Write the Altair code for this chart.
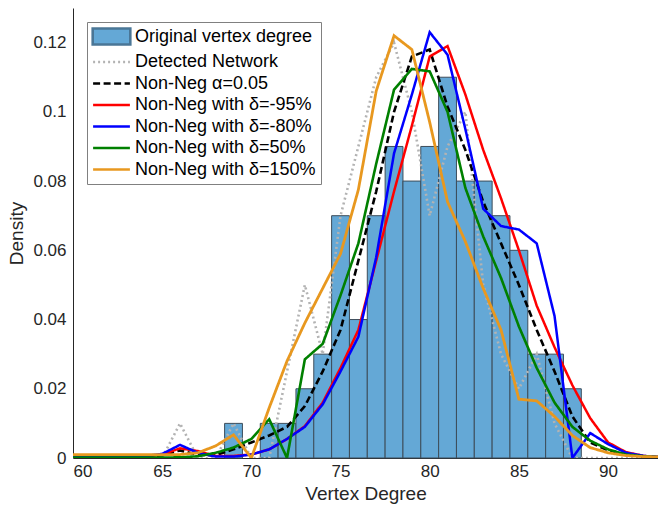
import altair as alt
import pandas as pd

# ---------------- data ----------------
x_vals = list(range(60, 94))

hist_centers = [69, 71, 72, 73, 74, 75, 76, 77, 78, 79, 80, 81, 82, 83, 84, 85, 86, 87, 88]
hist_density = [0.01, 0.01, 0.01, 0.02, 0.03, 0.07, 0.04, 0.07, 0.09, 0.08, 0.09, 0.11,
                0.08, 0.08, 0.07, 0.06, 0.03, 0.03, 0.02]

detected = [0, 0, 0, 0, 0, 0, 0.01, 0, 0, 0.01, 0, 0, 0.025, 0.05, 0.03, 0.07, 0.09, 0.11,
            0.12, 0.10, 0.07, 0.09, 0.10, 0.05, 0.03, 0.02, 0.03, 0.01, 0, 0, 0, 0, 0, 0]
alpha005 = [0.0002, 0.0002, 0.0002, 0.0002, 0.0003, 0.0008, 0.0022, 0.0009, 0.0008, 0.0025,
            0.0045, 0.0065, 0.009, 0.015, 0.025, 0.037, 0.057, 0.077, 0.100, 0.116, 0.118,
            0.1015, 0.089, 0.074, 0.062, 0.050, 0.037, 0.025, 0.012, 0.0045, 0.0022, 0.001,
            0.0004, 0.0002]
delta_m95 = [0.0002, 0.0002, 0.0002, 0.0002, 0.0004, 0.001, 0.0028, 0.002, 0.0006, 0.0006,
             0.001, 0.0025, 0.0055, 0.0092, 0.016, 0.026, 0.037, 0.057, 0.077, 0.096, 0.116,
             0.119, 0.105, 0.089, 0.075, 0.060, 0.044, 0.032, 0.021, 0.0115, 0.0045, 0.0017,
             0.0006, 0.0002]
delta_m80 = [0.0003, 0.0003, 0.0003, 0.0003, 0.0005, 0.0012, 0.0038, 0.0015, 0.0004, 0.0004,
             0.001, 0.0025, 0.0055, 0.009, 0.0155, 0.025, 0.035, 0.058, 0.088, 0.105, 0.123,
             0.1165, 0.095, 0.072, 0.067, 0.066, 0.062, 0.041, 0, 0.0072, 0.004, 0.0015,
             0.0006, 0.0002]
delta_50 = [0.0001, 0.0001, 0.0001, 0.0001, 0.0001, 0.0001, 0.0002, 0.0005, 0.0015, 0.003,
            0.0055, 0.0112, 0, 0.0285, 0.033, 0.047, 0.062, 0.085, 0.1064, 0.1124, 0.1117,
            0.100, 0.078, 0.064, 0.052, 0.038, 0.026, 0.016, 0.009, 0.005, 0.0025, 0.001,
            0.0005, 0.0002]
delta_150 = [0.001, 0.001, 0.001, 0.001, 0.001, 0.001, 0.001, 0.0015, 0.0035, 0.0067, 0,
             0.0145, 0.028, 0.039, 0.049, 0.059, 0.0775, 0.106, 0.122, 0.118, 0.097, 0.074,
             0.0625, 0.049, 0.037, 0.017, 0.0165, 0.012, 0.0065, 0.003, 0.0015, 0.0007,
             0.0004, 0.0003]

names = ["Original vertex degree", "Detected Network", "Non-Neg α=0.05",
         "Non-Neg with δ=-95%", "Non-Neg with δ=-80%", "Non-Neg with δ=50%",
         "Non-Neg with δ=150%"]
line_series = [detected, alpha005, delta_m95, delta_m80, delta_50, delta_150]
line_widths = [2.6, 2.6, 2.5, 2.5, 2.6, 2.8]

stroke_colors = ["#4a7696", "#b3b3b3", "#000000", "#ff0000", "#0000ff", "#008000", "#e8981f"]
fill_colors = ["#64a8d6", "transparent", "transparent", "transparent", "transparent",
               "transparent", "transparent"]
dashes = [[1, 0], [2, 3], [7, 3.5], [1, 0], [1, 0], [1, 0], [1, 0]]
shapes = ["M-2.35,-1H2.35V1H-2.35Z"] + ["M-2.3,0H2.3"] * 6

# ---------------- tables ----------------
hist_df = pd.DataFrame({"c": hist_centers, "d": hist_density})
rows = []
for name, vals, w in zip(names[1:], line_series, line_widths):
    for xv, yv in zip(x_vals, vals):
        rows.append({"x": xv, "y": yv, "series": name, "w": w})
line_df = pd.DataFrame(rows)

FONT = "Liberation Sans"
xscale = alt.Scale(domain=[60, 92.8], nice=False, zero=False)
yscale = alt.Scale(domain=[0, 0.13], nice=False)

xaxis = alt.Axis(values=[60, 65, 70, 75, 80, 85, 90], title="Vertex Degree", grid=False,
                 ticks=False, labelPadding=5, titlePadding=5)
yaxis = alt.Axis(values=[0, 0.02, 0.04, 0.06, 0.08, 0.1, 0.12], format="~g", title="Density",
                 grid=False, ticks=False, labelPadding=7, titlePadding=6)

leg = alt.Legend(title=None, orient="none", legendX=14, legendY=14, direction="vertical",
                 symbolSize=256, labelFontSize=18, labelFont=FONT, labelColor="#000000",
                 fillColor="white", strokeColor="#808080", padding=5, rowPadding=2.5,
                 symbolOffset=10, labelOffset=14, symbolLimit=0, labelLimit=400,
                 symbolOpacity=1, symbolStrokeWidth=2.6)

stroke_enc = alt.Stroke("series:N", scale=alt.Scale(domain=names, range=stroke_colors), legend=leg)
dash_enc = alt.StrokeDash("series:N", scale=alt.Scale(domain=names, range=dashes), legend=leg)

bars = alt.Chart(hist_df).transform_calculate(
    x0="datum.c - 0.5", x1="datum.c + 0.5"
).mark_bar(fill="#64a8d6", stroke="#3d4d5a", strokeWidth=1, opacity=1).encode(
    x=alt.X("x0:Q", scale=xscale, axis=xaxis),
    x2="x1:Q",
    y=alt.Y("d:Q", scale=yscale, axis=yaxis),
    y2=alt.datum(0),
)

lines = alt.Chart(line_df).mark_line(clip=True).encode(
    x=alt.X("x:Q", scale=xscale, axis=xaxis),
    y=alt.Y("y:Q", scale=yscale, axis=yaxis),
    stroke=stroke_enc,
    strokeDash=dash_enc,
    strokeWidth=alt.StrokeWidth("w:Q", scale=None),
)

legend_layer = alt.Chart(line_df).transform_filter("false").mark_point(
    filled=True, opacity=1
).encode(
    x=alt.X("x:Q", scale=xscale, axis=xaxis),
    y=alt.Y("y:Q", scale=yscale, axis=yaxis),
    shape=alt.Shape("series:N", scale=alt.Scale(domain=names, range=shapes), legend=leg),
    fill=alt.Fill("series:N", scale=alt.Scale(domain=names, range=fill_colors), legend=leg),
    stroke=stroke_enc,
    strokeDash=dash_enc,
)

chart = alt.layer(bars, lines, legend_layer).properties(
    width=585, height=450,
    background="white",
    autosize=alt.AutoSizeParams(type="none"),
    padding={"left": 73, "top": 8, "right": 0, "bottom": 53},
).configure_view(stroke=None).configure_axis(
    domainColor="#262626", labelColor="#262626", titleColor="#262626",
    labelFont=FONT, titleFont=FONT, labelFontSize=17, titleFontSize=19,
    titleFontWeight="normal",
)

chart.save("out.html", embed_options={"renderer": "svg", "actions": False})
